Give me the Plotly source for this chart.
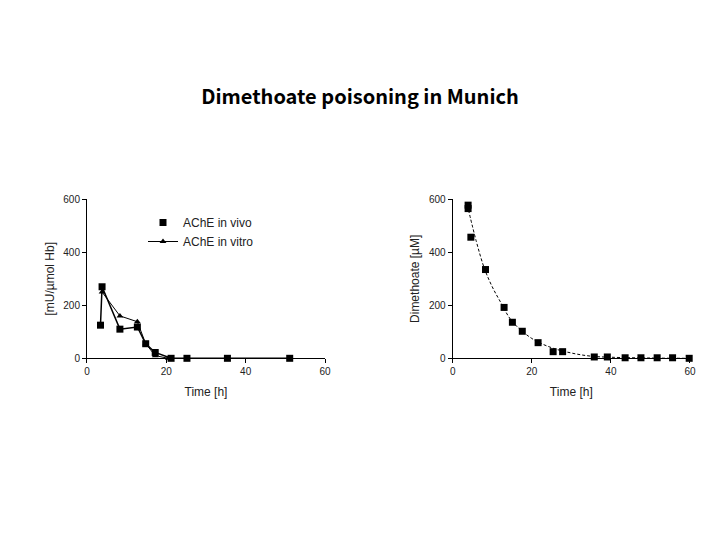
import plotly.graph_objects as go
from plotly.subplots import make_subplots

# Left panel: AChE activity
vivo_time = [3.4, 3.8, 8.3, 12.7, 14.8, 17.2, 21.2, 25.2, 35.4, 51.1]
vivo_ache = [125, 270, 110, 118, 55, 22, 0, 0, 0, 0]
vitro_time = [3.8, 8.3, 12.7, 14.8, 17.2, 20.5]
vitro_ache = [250, 160, 138, 55, 10, 0]

# Right panel: dimethoate concentration
dm_time = [3.9, 3.9, 4.6, 8.3, 13.0, 15.1, 17.6, 21.6, 25.4, 27.8, 35.8, 39.1, 43.6, 47.6, 51.7, 55.6, 59.8]
dm_conc = [578, 565, 457, 335, 192, 136, 102, 59, 25, 25, 5, 5, 2, 2, 2, 2, 0]
fit_time = [4, 6, 8, 10, 12, 15, 20, 25, 30, 35, 40, 50, 60]
fit_conc = [560, 440, 340, 270, 215, 140, 75, 40, 20, 8, 4, 1, 0]

x_ticks = [0, 20, 40, 60]
y_ticks = [0, 200, 400, 600]

fig = make_subplots(rows=1, cols=2)

fig.add_trace(go.Scatter(x=vivo_time, y=vivo_ache, mode="lines",
                         line=dict(color="black", width=1.5),
                         showlegend=False, hoverinfo="skip", cliponaxis=False), 1, 1)
fig.add_trace(go.Scatter(x=vivo_time, y=vivo_ache, mode="markers", name="AChE in vivo",
                         marker=dict(symbol="square", size=7, color="black"),
                         cliponaxis=False), 1, 1)
fig.add_trace(go.Scatter(x=vitro_time, y=vitro_ache, mode="lines+markers", name="AChE in vitro",
                         line=dict(color="black", width=1),
                         marker=dict(symbol="triangle-up", size=6, color="black"),
                         cliponaxis=False), 1, 1)

fig.add_trace(go.Scatter(x=fit_time, y=fit_conc, mode="lines", line_shape="spline",
                         line=dict(color="black", width=1, dash="3px,2px"),
                         showlegend=False, cliponaxis=False), 1, 2)
fig.add_trace(go.Scatter(x=dm_time, y=dm_conc, mode="markers",
                         marker=dict(symbol="square", size=7, color="black"),
                         showlegend=False, cliponaxis=False), 1, 2)

FONT = "Liberation Sans, Arial"
axis_common = dict(showgrid=False, zeroline=False, showline=True, linecolor="black",
                   linewidth=1, ticks="outside", ticklen=4, tickcolor="black",
                   automargin=False,
                   tickfont=dict(family=FONT, size=10, color="#222"))

fig.update_xaxes(range=[0, 60], tickvals=x_ticks, **axis_common,
                 title=dict(text="Time [h]", font=dict(family=FONT, size=12, color="#222"), standoff=11))
fig.update_yaxes(range=[0, 600], tickvals=y_ticks, **axis_common)

fig.update_layout(
    xaxis=dict(domain=[0.1097, 0.4403], anchor="y"),
    xaxis2=dict(domain=[0.6176, 0.9472], anchor="y2"),
    yaxis=dict(domain=[0.3513, 0.6457], anchor="x",
               title=dict(text="[mU/µmol Hb]", font=dict(family=FONT, size=12, color="#222"), standoff=6)),
    yaxis2=dict(domain=[0.3513, 0.6457], anchor="x2",
                title=dict(text="Dimethoate [µM]", font=dict(family=FONT, size=12, color="#222"), standoff=6)),
    width=720, height=540,
    margin=dict(l=0, r=0, t=0, b=0, autoexpand=False),
    paper_bgcolor="white", plot_bgcolor="white",
    title=dict(text="<b>Dimethoate poisoning in Munich</b>", x=(360 - 8) / 720, xanchor="center",
               y=1 - 89 / 540, yanchor="middle",
               font=dict(family="Noto Sans CJK JP", size=20, color="black")),
    legend=dict(x=135 / 720, y=1 - 200 / 540, xanchor="left", yanchor="top",
                bgcolor="rgba(0,0,0,0)", itemwidth=30,
                font=dict(family=FONT, size=12, color="#222"),
                tracegroupgap=0),
    showlegend=True,
)

fig.write_html("out.html")
